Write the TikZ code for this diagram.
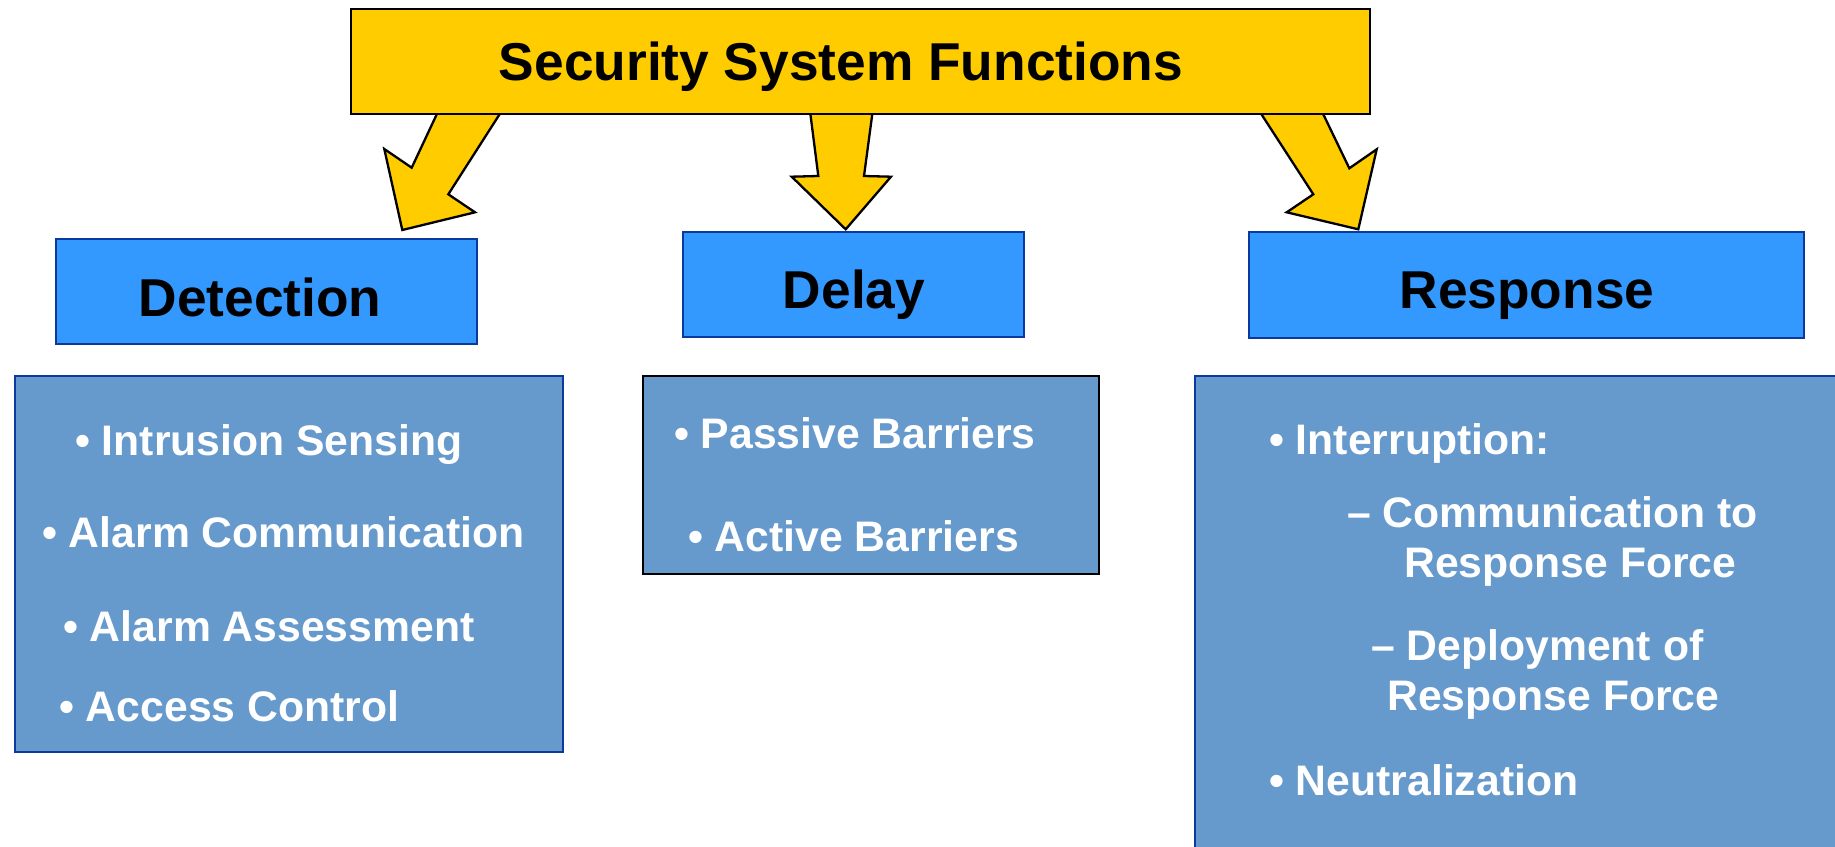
\documentclass[tikz,border=0pt]{standalone}
\usepackage{fontspec}
\setmainfont{Liberation Sans}
\definecolor{gold}{HTML}{FFCC00}
\definecolor{headblue}{HTML}{3399FF}
\definecolor{listblue}{HTML}{6699CC}
\definecolor{edgeblue}{HTML}{0A3A9E}
\tikzset{
  titlebox/.style={draw=black, line width=2pt, fill=gold, rectangle, inner sep=0pt, anchor=north west},
  headbox/.style={draw=edgeblue, line width=2pt, fill=headblue, rectangle, inner sep=0pt, anchor=north west},
  listbox/.style={draw=edgeblue, line width=2pt, fill=listblue, rectangle, inner sep=0pt, anchor=north west},
  headtext/.style={font=\bfseries\fontsize{53.3}{60}\selectfont, text=black, inner sep=0pt, anchor=base},
  item/.style={font=\bfseries\fontsize{42.7}{50}\selectfont, text=white, inner sep=0pt, anchor=base west},
  blockarrow/.style={draw=black, line width=2.3pt, fill=gold, line join=miter}
}
\begin{document}
\begin{tikzpicture}[x=1pt, y=-1pt]
\useasboundingbox (0,0) rectangle (1835,846);
\clip (0,0) rectangle (1835,846);

% block arrows from the title down to the three functions
\filldraw[blockarrow] (438.3,111) -- (411.7,167.7) -- (384.3,149) -- (402.3,230)
  -- (475,212.3) -- (448.3,194.3) -- (501.7,111) -- cycle;
\filldraw[blockarrow] (810,111) -- (818.3,176) -- (791.7,176.7) -- (845.7,229.3)
  -- (891,176.7) -- (864,176) -- (872.7,111) -- cycle;
\filldraw[blockarrow] (1259.3,111) -- (1313.3,194.3) -- (1286.7,212.3) -- (1358.3,229.3)
  -- (1376.7,149.3) -- (1349.3,168.3) -- (1321.7,111) -- cycle;

% title
\node[titlebox, minimum width=1019pt, minimum height=105pt] (title) at (349.5,7.5) {};
\node[headtext] (titletext) at (841,80) {Security System Functions};

% function headers
\node[headbox, minimum width=421pt, minimum height=105pt] (det) at (55,238) {};
\node[headtext] (dettext) at (260,316) {Detection};
\node[headbox, minimum width=341pt, minimum height=105pt] (del) at (682,231) {};
\node[headtext] (deltext) at (854,308) {Delay};
\node[headbox, minimum width=555pt, minimum height=106pt] (res) at (1248,231) {};
\node[headtext] (restext) at (1527,308) {Response};

% lists of elements
\node[listbox, minimum width=548pt, minimum height=376pt] (detlist) at (14,375) {};
\node[listbox, draw=black, minimum width=456pt, minimum height=198pt] (dellist) at (642,375) {};
\node[listbox, minimum width=680pt, minimum height=520pt] (reslist) at (1194,375) {};

\node[item] (d1) at (75,455) {• Intrusion Sensing};
\node[item] (d2) at (42,547) {• Alarm Communication};
\node[item] (d3) at (63,641) {• Alarm Assessment};
\node[item] (d4) at (59,721) {• Access Control};

\node[item] (l1) at (674,448) {• Passive Barriers};
\node[item] (l2) at (688,551) {• Active Barriers};

\node[item] (r1) at (1269,454) {• Interruption:};
\node[item] (r2) at (1347,527) {– Communication to};
\node[item] (r3) at (1404,577) {Response Force};
\node[item] (r4) at (1371,660) {– Deployment of};
\node[item] (r5) at (1387,710) {Response Force};
\node[item] (r6) at (1269,795) {• Neutralization};
\end{tikzpicture}
\end{document}
